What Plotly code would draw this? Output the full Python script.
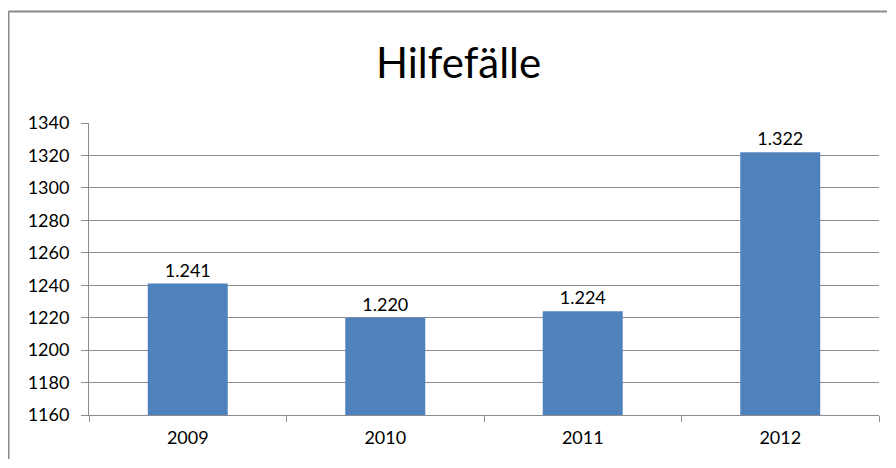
import plotly.graph_objects as go

years = ["2009", "2010", "2011", "2012"]
cases = [1241, 1220, 1224, 1322]
y_ticks = [1160, 1180, 1200, 1220, 1240, 1260, 1280, 1300, 1320, 1340]

# The page body has an 8px margin on every side; keep the figure inside the
# window and work in screen pixels.
OFF = 8
SW, SH = 896, 468
W, H = SW - 2 * OFF, SH - 2 * OFF
# screen coordinates of the plot area
sx0, sx1, sy0, sy1 = 89, 879, 123, 415
L, R = sx0 - OFF, (OFF + W) - sx1
T, B = sy0 - OFF, (OFF + H) - sy1
pw, ph = sx1 - sx0, sy1 - sy0

def px_x(p):
    return (p - sx0) / pw

def px_y(p):
    return (sy1 - p) / ph

FONT = "Lato"
GRID = "#8c8c8c"
BORDER = "#898989"

fig = go.Figure(go.Bar(
    x=years, y=cases,
    marker=dict(color="#4F81BD", line=dict(width=0)),
    width=0.405,
    texttemplate="%{y:,.0f}",
    textposition="outside",
    textfont=dict(family=FONT, size=18, color="#000000"),
    cliponaxis=False,
))

bx, by_top = px_x(8.5), px_y(11.5)
bx_right, by_bottom = px_x(OFF + W - 1), px_y(OFF + H - 1)

fig.update_layout(
    width=W, height=H,
    margin=dict(l=L, r=R, t=T, b=B, pad=0, autoexpand=False),
    paper_bgcolor="white", plot_bgcolor="white",
    separators=",.",
    showlegend=False,
    font=dict(family=FONT, color="#000000"),
    xaxis=dict(
        type="category", showgrid=False, showline=True, linecolor=GRID, linewidth=1,
        ticks="outside", tickson="boundaries", ticklen=6, tickcolor=GRID,
        tickfont=dict(family=FONT, size=18, color="#000000"), ticklabelstandoff=6,
        automargin=False,
    ),
    yaxis=dict(
        range=[1160, 1340], tickvals=y_ticks, ticktext=[str(v) for v in y_ticks],
        showgrid=True, gridcolor=GRID, gridwidth=1, zeroline=False,
        showline=True, linecolor=GRID, linewidth=1,
        ticks="outside", ticklen=7, tickcolor=GRID,
        tickfont=dict(family=FONT, size=18, color="#000000"), ticklabelstandoff=8,
        automargin=False,
    ),
    shapes=[
        dict(type="line", xref="paper", yref="paper",
             x0=bx, x1=bx_right, y0=by_top, y1=by_top,
             line=dict(color=BORDER, width=2), layer="below"),
        dict(type="line", xref="paper", yref="paper",
             x0=bx, x1=bx, y0=by_top, y1=by_bottom,
             line=dict(color=BORDER, width=2), layer="below"),
    ],
    annotations=[dict(
        text="Hilfefälle", xref="paper", yref="paper",
        x=px_x(458), y=px_y(62), xanchor="center", yanchor="middle",
        showarrow=False, font=dict(family=FONT, size=42, color="#000000"),
    )],
)

fig.write_html("out.html")
